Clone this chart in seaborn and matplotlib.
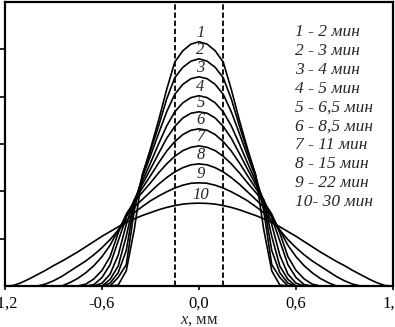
import numpy as np
import pandas as pd
import matplotlib
matplotlib.use("Agg")
import matplotlib.pyplot as plt
import seaborn as sns

x_mm = np.linspace(-1.2, 1.2, 49)

# concentration profiles, one per time
c1 = [0] * 14 + [0.02, 0.32, 1.20, 2.35, 2.90, 3.50, 4.15, 4.73, 4.97, 5.11, 5.16,
                 5.11, 4.97, 4.73, 4.15, 3.50, 2.90, 2.35, 1.20, 0.32, 0.02] + [0] * 14
c2 = [0] * 14 + [0.18, 0.45, 1.60, 2.35, 2.85, 3.38, 3.95, 4.40, 4.62, 4.75, 4.80,
                 4.75, 4.62, 4.40, 3.95, 3.38, 2.85, 2.35, 1.60, 0.45, 0.18] + [0] * 14
c3 = [0] * 13 + [0.06, 0.28, 0.75, 1.75, 2.30, 2.75, 3.22, 3.68, 4.05, 4.26, 4.38, 4.42,
                 4.38, 4.26, 4.05, 3.68, 3.22, 2.75, 2.30, 1.75, 0.75, 0.28, 0.06] + [0] * 13
c4 = [0] * 13 + [0.14, 0.42, 1.05, 1.80, 2.22, 2.60, 3.00, 3.38, 3.68, 3.87, 3.98, 4.02,
                 3.98, 3.87, 3.68, 3.38, 3.00, 2.60, 2.22, 1.80, 1.05, 0.42, 0.14] + [0] * 13
c5 = [0] * 12 + [0.06, 0.25, 0.65, 1.30, 1.82, 2.15, 2.47, 2.80, 3.12, 3.37, 3.55, 3.65, 3.68,
                 3.65, 3.55, 3.37, 3.12, 2.80, 2.47, 2.15, 1.82, 1.30, 0.65, 0.25, 0.06] + [0] * 12
c6 = [0] * 11 + [0.03, 0.18, 0.45, 0.95, 1.45, 1.82, 2.07, 2.33, 2.60, 2.85, 3.05, 3.20, 3.29, 3.32,
                 3.29, 3.20, 3.05, 2.85, 2.60, 2.33, 2.07, 1.82, 1.45, 0.95, 0.45, 0.18, 0.03] + [0] * 11
c7 = [0] * 10 + [0.04, 0.15, 0.33, 0.62, 1.12, 1.52, 1.78, 1.98, 2.18, 2.39, 2.58, 2.74, 2.86, 2.93, 2.96,
                 2.93, 2.86, 2.74, 2.58, 2.39, 2.18, 1.98, 1.78, 1.52, 1.12, 0.62, 0.33, 0.15, 0.04] + [0] * 10
c8 = [0] * 8 + [0.07, 0.16, 0.28, 0.43, 0.62, 0.86, 1.18, 1.48, 1.67, 1.83, 1.99, 2.15, 2.29, 2.41, 2.50, 2.56, 2.58,
                2.56, 2.50, 2.41, 2.29, 2.15, 1.99, 1.83, 1.67, 1.48, 1.18, 0.86, 0.62, 0.43, 0.28, 0.16, 0.07] + [0] * 8
c9 = [0] * 5 + [0.04, 0.11, 0.20, 0.31, 0.42, 0.53, 0.66, 0.81, 0.98, 1.18, 1.38, 1.55, 1.68, 1.80, 1.90, 1.99,
                2.07, 2.13, 2.17, 2.18, 2.17, 2.13, 2.07, 1.99, 1.90, 1.80, 1.68, 1.55, 1.38, 1.18, 0.98, 0.81,
                0.66, 0.53, 0.42, 0.31, 0.20, 0.11, 0.04] + [0] * 5
c10 = [0, 0.01, 0.07, 0.15, 0.24, 0.33, 0.43, 0.52, 0.62, 0.72, 0.83, 0.94, 1.05, 1.15, 1.25, 1.34, 1.42, 1.49,
       1.55, 1.61, 1.66, 1.70, 1.73, 1.745, 1.75, 1.745, 1.73, 1.70, 1.66, 1.61, 1.55, 1.49, 1.42, 1.34, 1.25,
       1.15, 1.05, 0.94, 0.83, 0.72, 0.62, 0.52, 0.43, 0.33, 0.24, 0.15, 0.07, 0.01, 0]

curves = [c1, c2, c3, c4, c5, c6, c7, c8, c9, c10]
times = ["2", "3", "4", "5", "6,5", "8,5", "11", "15", "22", "30"]
xticks = [-1.2, -0.6, 0.0, 0.6, 1.2]
xtick_labels = ["-1,2", "-0,6", "0,0", "0,6", "1,2"]
dash_x = [-0.15, 0.15]

df = pd.DataFrame({
    "x": np.tile(x_mm, len(curves)),
    "c": np.concatenate(curves),
    "curve": np.repeat(np.arange(1, len(curves) + 1), len(x_mm)),
})

sns.set_style("ticks")
plt.rcParams["font.family"] = ["Liberation Serif", "DejaVu Serif"]
plt.rcParams["mathtext.fontset"] = "custom"
plt.rcParams["mathtext.it"] = "Liberation Serif:italic"
plt.rcParams["mathtext.rm"] = "Liberation Serif"

fig = plt.figure(figsize=(3.95, 3.27), dpi=100)
ax = fig.add_axes([5 / 395, 41 / 327, 388 / 395, 284 / 327])

sns.lineplot(data=df, x="x", y="c", hue="curve", palette=["black"] * len(curves),
             legend=False, estimator=None, sort=False, lw=1.2, ax=ax)

for xd in dash_x:
    ax.axvline(xd, color="black", lw=1.3, dashes=(3, 1.5))

ax.set_xlim(-1.2, 1.2)
ax.set_ylim(0, 6)
ax.set_xticks(xticks)
ax.set_xticklabels(xtick_labels, fontsize=12)
ax.set_yticks([1, 2, 3, 4, 5])
ax.set_yticklabels([])
ax.tick_params(axis="x", direction="out", length=3, width=1.2, pad=4, colors="black")
ax.tick_params(axis="y", direction="out", length=6, width=1.2, colors="black")
for sp in ax.spines.values():
    sp.set_visible(True)
    sp.set_linewidth(1.6)
    sp.set_color("black")

ax.set_xlabel("$x$, мм", fontsize=12, labelpad=0)
ax.set_ylabel("")

# curve numbers above the peaks
for i, c in enumerate(curves):
    ax.text(0.01, max(c) + 0.18, str(i + 1), ha="center", va="center",
            fontsize=12, style="italic")

# legend block
for i, t in enumerate(times):
    sep = " - " if i < 9 else "- "
    ax.text(0.594, 5.37 - 0.4 * i, f"{i + 1}{sep}{t} мин", ha="left", va="center",
            fontsize=12.5, style="italic")

fig.savefig("out.png", dpi=100)
